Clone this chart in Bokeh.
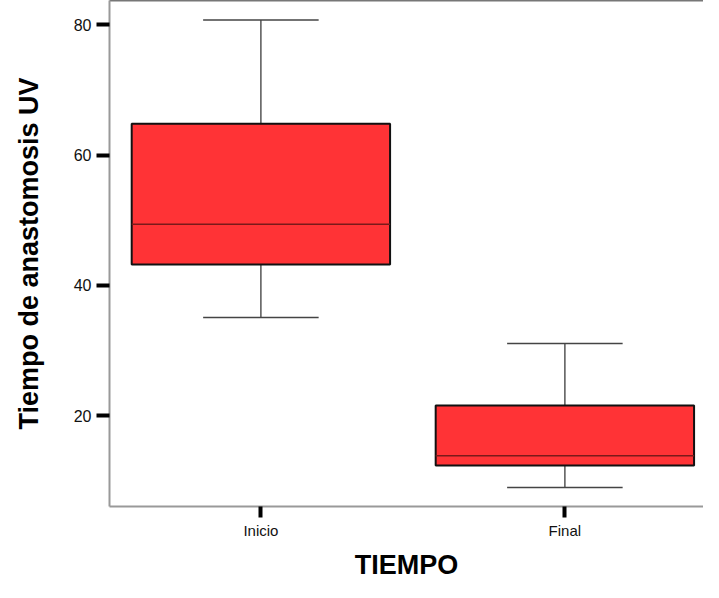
from bokeh.plotting import figure
from bokeh.models import Range1d, FixedTicker, LinearAxis, ColumnDataSource
from bokeh.embed import file_html
from bokeh.resources import INLINE

# ---- data ----
categories = ["Inicio", "Final"]
whisker_high = [80.7, 31.1]
q3 = [64.8, 21.6]
median = [49.4, 13.9]
q1 = [43.2, 12.4]
whisker_low = [35.1, 9.0]
y_ticks = [20, 40, 60, 80]

xpos = list(range(len(categories)))
box_w = 0.85
cap_w = 0.38

src = ColumnDataSource(dict(
    x=xpos,
    left=[x - box_w / 2 for x in xpos],
    right=[x + box_w / 2 for x in xpos],
    cl=[x - cap_w / 2 for x in xpos],
    cr=[x + cap_w / 2 for x in xpos],
    hi=whisker_high, q3=q3, med=median, q1=q1, lo=whisker_low,
))

p = figure(width=703, height=582, output_backend="svg", toolbar_location=None,
           x_range=Range1d(-0.498, 1.456), y_range=Range1d(6.1, 83.7),
           min_border_left=109, min_border_right=0, min_border_top=0,
           min_border_bottom=76, x_axis_type="linear")
p.outline_line_color = None
p.grid.visible = False
p.background_fill_color = "white"
p.border_fill_color = "white"

# whiskers
p.segment(x0="x", y0="q3", x1="x", y1="hi", source=src, line_color="#555555", line_width=1.5)
p.segment(x0="x", y0="q1", x1="x", y1="lo", source=src, line_color="#555555", line_width=1.5)
p.segment(x0="cl", y0="hi", x1="cr", y1="hi", source=src, line_color="#444444", line_width=1.5)
p.segment(x0="cl", y0="lo", x1="cr", y1="lo", source=src, line_color="#444444", line_width=1.5)
# boxes
p.quad(left="left", right="right", bottom="q1", top="q3", source=src,
       fill_color="#FF3336", line_color="#111111", line_width=2)
p.segment(x0="left", y0="med", x1="right", y1="med", source=src,
          line_color="#7a1a1a", line_width=1.5)

font = "Liberation Sans"

xa = p.xaxis[0]
xa.ticker = FixedTicker(ticks=xpos)
xa.major_label_overrides = {i: c for i, c in enumerate(categories)}
xa.major_label_text_font = font
xa.major_label_text_font_size = "15px"
xa.major_label_text_color = "#111111"
xa.major_label_standoff = 4
xa.axis_label = "TIEMPO"
xa.axis_label_text_font = font
xa.axis_label_text_font_style = "bold"
xa.axis_label_text_font_size = "27px"
xa.axis_label_text_color = "black"
xa.axis_label_text_baseline = "top"
xa.axis_label_standoff = 8
xa.axis_line_color = "#999999"
xa.axis_line_width = 2
xa.major_tick_line_color = "black"
xa.major_tick_line_width = 4
xa.major_tick_out = 11
xa.major_tick_in = 0
xa.minor_tick_line_color = None

ya = p.yaxis[0]
ya.ticker = FixedTicker(ticks=y_ticks)
ya.axis_label = "Tiempo de anastomosis UV"
ya.axis_label_text_font = font
ya.axis_label_text_font_style = "bold"
ya.axis_label_text_font_size = "27px"
ya.axis_label_text_color = "black"
ya.axis_label_standoff = 27
ya.major_label_text_font = font
ya.major_label_text_font_size = "16px"
ya.major_label_text_color = "#111111"
ya.major_label_standoff = 5
ya.axis_line_color = "#999999"
ya.axis_line_width = 2
ya.major_tick_line_color = "black"
ya.major_tick_line_width = 4
ya.major_tick_out = 13
ya.major_tick_in = 0
ya.minor_tick_line_color = None

top = LinearAxis(ticker=FixedTicker(ticks=[]), axis_line_color="#777777", axis_line_width=2,
                 major_tick_line_color=None, minor_tick_line_color=None,
                 major_label_text_font_size="0px")
p.add_layout(top, "above")

open("out.html", "w").write(file_html(p, INLINE))
